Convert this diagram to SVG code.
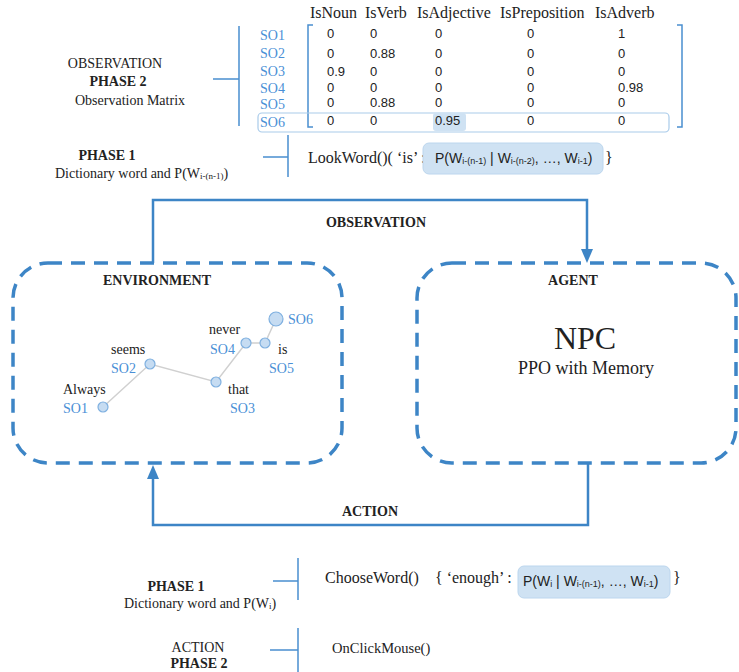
<svg xmlns="http://www.w3.org/2000/svg" width="739" height="672" viewBox="0 0 739 672">
<style>
.s{font-family:"Liberation Serif","Times New Roman",serif;fill:#222}
.b{font-weight:bold}
.n{font-family:"Liberation Sans",Arial,sans-serif;font-size:13px;fill:#222}
.so{font-family:"Liberation Serif","Times New Roman",serif;font-size:14px;fill:#4a8fd6}
.br{fill:none;stroke:#4a8fd0;stroke-width:1.5}
.dash{fill:none;stroke:#3d85c6;stroke-width:3.5;stroke-dasharray:14 9}
.conn{fill:none;stroke:#3d85c6;stroke-width:2.5}
.hl{fill:#cfe2f3;stroke:#bcd6ee;stroke-width:1}
.dot{fill:#c6dcf2;stroke:#7fb0e0;stroke-width:1.2}
.edge{stroke:#d0d0d0;stroke-width:1.5;fill:none}
.sub{font-size:9px}
</style>
<rect width="739" height="672" fill="#fff"/>

<g id="observation-matrix">
  <text class="s" x="115" y="68" font-size="14" text-anchor="middle">OBSERVATION</text>
  <text class="s b" x="118" y="86" font-size="14" text-anchor="middle">PHASE 2</text>
  <text class="s" x="130" y="105" font-size="14" text-anchor="middle">Observation Matrix</text>
  <path class="br" d="M213,79 H239 M239,26 V126"/>
  <path class="br" d="M313,25 H308 V127 H313"/>
  <path class="br" d="M677,25 H682 V127 H677"/>
  <rect x="258" y="113" width="411" height="19" rx="4" fill="none" stroke="#a9cbea" stroke-width="1.2"/>
  <rect x="433" y="113" width="33" height="18" rx="3" fill="#cfe2f3"/>
  <g class="s" font-size="16">
    <text x="310" y="18">IsNoun</text>
    <text x="365" y="18">IsVerb</text>
    <text x="417" y="18">IsAdjective</text>
    <text x="500" y="18">IsPreposition</text>
    <text x="595" y="18">IsAdverb</text>
  </g>
  <g class="so">
    <text x="260" y="40">SO1</text>
    <text x="260" y="58">SO2</text>
    <text x="260" y="76">SO3</text>
    <text x="260" y="93">SO4</text>
    <text x="260" y="109">SO5</text>
    <text x="260" y="127">SO6</text>
  </g>
  <g class="n">
    <text x="327" y="38">0</text><text x="370" y="38">0</text><text x="435" y="38">0</text><text x="527" y="38">0</text><text x="618" y="38">1</text>
    <text x="327" y="58">0</text><text x="370" y="58">0.88</text><text x="435" y="58">0</text><text x="527" y="58">0</text><text x="618" y="58">0</text>
    <text x="327" y="76">0.9</text><text x="370" y="76">0</text><text x="435" y="76">0</text><text x="527" y="76">0</text><text x="618" y="76">0</text>
    <text x="327" y="92">0</text><text x="370" y="92">0</text><text x="435" y="92">0</text><text x="527" y="92">0</text><text x="618" y="92">0.98</text>
    <text x="327" y="107">0</text><text x="370" y="107">0.88</text><text x="435" y="107">0</text><text x="527" y="107">0</text><text x="618" y="107">0</text>
    <text x="327" y="125">0</text><text x="370" y="125">0</text><text x="435" y="125">0.95</text><text x="527" y="125">0</text><text x="618" y="125">0</text>
  </g>
</g>

<g id="observation-phase1">
  <text class="s b" x="107" y="160" font-size="14" text-anchor="middle">PHASE 1</text>
  <text class="s" x="55" y="178" font-size="14">Dictionary word and P(W<tspan class="sub" dy="1">i-(n-1)</tspan><tspan dy="-1">)</tspan></text>
  <path class="br" d="M263,157 H288 M288,135 V177"/>
  <text class="s" x="308" y="163" font-size="16">LookWord()( ‘is’ :</text>
  <rect class="hl" x="423" y="143" width="180" height="31" rx="6"/>
  <text x="435" y="163" font-family="Liberation Sans,Arial,sans-serif" font-size="14" fill="#222">P(W<tspan class="sub" dy="1">i-(n-1)</tspan><tspan dy="-1"> | W</tspan><tspan class="sub" dy="1">i-(n-2)</tspan><tspan dy="-1">, …, W</tspan><tspan class="sub" dy="1">i-1</tspan><tspan dy="-1">)</tspan></text>
  <text class="s" x="605" y="163" font-size="16">}</text>
</g>

<g id="environment">
  <rect class="dash" x="13" y="263" width="329" height="200" rx="35"/>
  <text class="s b" x="157" y="285" font-size="14" text-anchor="middle">ENVIRONMENT</text>
  <path class="edge" d="M103,407 L150,364 L216,382 L246,343 L265,343 L276,319"/>
  <circle class="dot" cx="103" cy="407" r="5"/>
  <circle class="dot" cx="150" cy="364" r="5"/>
  <circle class="dot" cx="216" cy="382" r="5"/>
  <circle class="dot" cx="246" cy="343" r="5"/>
  <circle class="dot" cx="265" cy="343" r="5"/>
  <circle class="dot" cx="276" cy="319" r="7"/>
  <g class="s" font-size="14">
    <text x="63" y="394">Always</text>
    <text x="111" y="354">seems</text>
    <text x="228" y="394">that</text>
    <text x="209" y="334">never</text>
    <text x="278" y="354">is</text>
  </g>
  <g class="so">
    <text x="63" y="413">SO1</text>
    <text x="111" y="373">SO2</text>
    <text x="230" y="413">SO3</text>
    <text x="210" y="354">SO4</text>
    <text x="269" y="373">SO5</text>
    <text x="288" y="324">SO6</text>
  </g>
</g>

<g id="agent">
  <rect class="dash" x="417" y="263" width="319" height="200" rx="35"/>
  <text class="s b" x="573" y="285" font-size="14" text-anchor="middle">AGENT</text>
  <text class="s" x="585" y="349" font-size="32" text-anchor="middle">NPC</text>
  <text class="s" x="586" y="374" font-size="18" text-anchor="middle">PPO with Memory</text>
</g>

<g id="connectors">
  <path class="conn" d="M153,263 V200 H587 V252"/>
  <polygon points="581,249 593,249 587,263" fill="#3d85c6"/>
  <text class="s b" x="376" y="227" font-size="14" text-anchor="middle">OBSERVATION</text>
  <path class="conn" d="M588,463 V525 H153 V476"/>
  <polygon points="147,479 159,479 153,465" fill="#3d85c6"/>
  <text class="s b" x="370" y="516" font-size="14" text-anchor="middle">ACTION</text>
</g>

<g id="action-phase1">
  <text class="s b" x="176" y="591" font-size="14" text-anchor="middle">PHASE 1</text>
  <text class="s" x="124" y="608" font-size="14">Dictionary word and P(W<tspan class="sub" dy="1">i</tspan><tspan dy="-1">)</tspan></text>
  <path class="br" d="M273,581 H298 M298,558 V600"/>
  <text class="s" x="325" y="583" font-size="16">ChooseWord()</text>
  <text class="s" x="435" y="583" font-size="16">{ ‘enough’ :</text>
  <rect class="hl" x="518" y="566" width="152" height="32" rx="6"/>
  <text x="523" y="586" font-family="Liberation Sans,Arial,sans-serif" font-size="14" fill="#222">P(W<tspan class="sub" dy="1">i</tspan><tspan dy="-1"> | W</tspan><tspan class="sub" dy="1">i-(n-1)</tspan><tspan dy="-1">, …, W</tspan><tspan class="sub" dy="1">i-1</tspan><tspan dy="-1">)</tspan></text>
  <text class="s" x="673" y="583" font-size="16">}</text>
</g>

<g id="action-phase2">
  <text class="s" x="198" y="652" font-size="14" text-anchor="middle">ACTION</text>
  <text class="s b" x="199" y="668" font-size="14" text-anchor="middle">PHASE 2</text>
  <path class="br" d="M270,650 H298 M298,628 V672"/>
  <text class="s" x="332" y="653" font-size="14.5">OnClickMouse()</text>
</g>
</svg>
